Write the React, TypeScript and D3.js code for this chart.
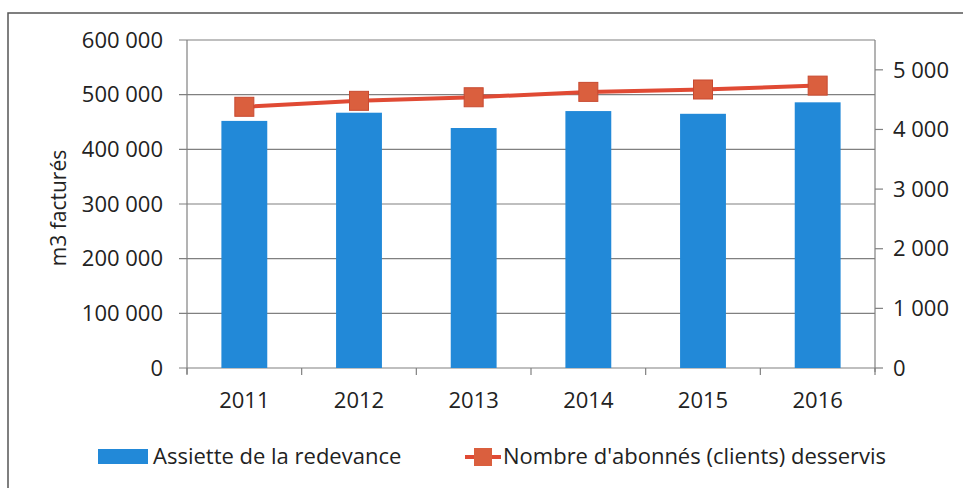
import React, { useEffect, useRef } from "react";
import * as d3 from "d3";

const years = ["2011", "2012", "2013", "2014", "2015", "2016"];
const assiette = [452000, 467000, 439000, 470000, 465000, 486000];
const abonnes = [4380, 4480, 4540, 4630, 4670, 4735];
const leftTicks = [0, 100000, 200000, 300000, 400000, 500000, 600000];
const rightTicks = [0, 1000, 2000, 3000, 4000, 5000];

const FONT = "'Open Sans', Lato, sans-serif";
const fmt = (v: number) => d3.format(",")(v).replace(/,/g, " ");

export default function App() {
  const ref = useRef<SVGSVGElement>(null);

  useEffect(() => {
    const width = 963;
    const height = 488;
    const left = 187, right = 875, top = 40, bottom = 368;

    const svg = d3.select(ref.current);
    svg.selectAll("*").remove();
    svg.attr("width", width).attr("height", height);

    // outer chart frame (only top and left visible)
    svg.append("path")
      .attr("d", `M8,${height} L8,13 L${width},13`)
      .attr("fill", "none")
      .attr("stroke", "#555")
      .attr("stroke-width", 1.5);

    const x = d3.scaleBand().domain(years).range([left, right]).paddingInner(0.6).paddingOuter(0.3);
    const xb = d3.scaleBand().domain(years).range([left, right]);
    const yL = d3.scaleLinear().domain([0, 600000]).range([bottom, top]);
    const yR = d3.scaleLinear().domain([0, 5500]).range([bottom, top]);

    // gridlines
    svg.append("g")
      .selectAll("line")
      .data(leftTicks)
      .enter()
      .append("line")
      .attr("x1", left - 8)
      .attr("x2", right)
      .attr("y1", (d) => yL(d))
      .attr("y2", (d) => yL(d))
      .attr("stroke", "#808080")
      .attr("stroke-width", 1.2);

    // left axis line
    svg.append("line")
      .attr("x1", left).attr("x2", left)
      .attr("y1", top).attr("y2", bottom + 6)
      .attr("stroke", "#808080").attr("stroke-width", 1.2);

    // left tick labels
    svg.append("g")
      .selectAll("text")
      .data(leftTicks)
      .enter()
      .append("text")
      .attr("x", left - 24)
      .attr("y", (d) => yL(d))
      .attr("dy", "0.35em")
      .attr("text-anchor", "end")
      .attr("font-family", FONT)
      .attr("font-size", 22)
      .attr("fill", "#222")
      .text((d) => fmt(d));

    // axis title
    svg.append("text")
      .attr("transform", `translate(66,${(top + bottom) / 2 + 4}) rotate(-90)`)
      .attr("text-anchor", "middle")
      .attr("font-family", FONT)
      .attr("font-size", 21)
      .attr("fill", "#222")
      .text("m3 facturés");

    // right axis
    svg.append("line")
      .attr("x1", right).attr("x2", right)
      .attr("y1", top).attr("y2", bottom + 4)
      .attr("stroke", "#808080").attr("stroke-width", 1.2);
    const rt = svg.append("g").selectAll("g").data(rightTicks).enter().append("g");
    rt.append("line")
      .attr("x1", right).attr("x2", right + 8)
      .attr("y1", (d) => yR(d)).attr("y2", (d) => yR(d))
      .attr("stroke", "#808080").attr("stroke-width", 1.2);
    rt.append("text")
      .attr("x", right + 18)
      .attr("y", (d) => yR(d))
      .attr("dy", "0.35em")
      .attr("font-family", FONT)
      .attr("font-size", 22)
      .attr("fill", "#222")
      .text((d) => fmt(d));

    // x ticks at category boundaries
    const bounds = years.map((y) => xb(y) as number).concat([right]);
    svg.append("g")
      .selectAll("line")
      .data(bounds)
      .enter()
      .append("line")
      .attr("x1", (d) => d).attr("x2", (d) => d)
      .attr("y1", bottom).attr("y2", bottom + 7)
      .attr("stroke", "#808080").attr("stroke-width", 1.2);

    svg.append("g")
      .selectAll("text")
      .data(years)
      .enter()
      .append("text")
      .attr("x", (d) => (xb(d) as number) + xb.bandwidth() / 2)
      .attr("y", bottom + 40)
      .attr("text-anchor", "middle")
      .attr("font-family", FONT)
      .attr("font-size", 22)
      .attr("fill", "#222")
      .text((d) => d);

    // bars
    svg.append("g")
      .selectAll("rect")
      .data(assiette)
      .enter()
      .append("rect")
      .attr("x", (d, i) => x(years[i]) as number)
      .attr("y", (d) => yL(d))
      .attr("width", x.bandwidth())
      .attr("height", (d) => bottom - yL(d))
      .attr("fill", "#2289d8");

    // line series
    const cx = (i: number) => (xb(years[i]) as number) + xb.bandwidth() / 2;
    const line = d3.line<number>().x((d, i) => cx(i)).y((d) => yR(d));
    svg.append("path")
      .datum(abonnes)
      .attr("d", line)
      .attr("fill", "none")
      .attr("stroke", "#e04a34")
      .attr("stroke-width", 4);
    svg.append("g")
      .selectAll("rect")
      .data(abonnes)
      .enter()
      .append("rect")
      .attr("x", (d, i) => cx(i) - 9.5)
      .attr("y", (d) => yR(d) - 9.5)
      .attr("width", 19)
      .attr("height", 19)
      .attr("fill", "#da5f3e")
      .attr("stroke", "#c84a30")
      .attr("stroke-width", 1);

    // legend
    const lg = svg.append("g");
    lg.append("rect")
      .attr("x", 98).attr("y", 449).attr("width", 50).attr("height", 15)
      .attr("fill", "#2289d8");
    lg.append("text")
      .attr("x", 153).attr("y", 464)
      .attr("font-family", FONT).attr("font-size", 22).attr("fill", "#222")
      .text("Assiette de la redevance");
    lg.append("line")
      .attr("x1", 465).attr("x2", 501).attr("y1", 457).attr("y2", 457)
      .attr("stroke", "#e04a34").attr("stroke-width", 4);
    lg.append("rect")
      .attr("x", 474).attr("y", 448).attr("width", 18).attr("height", 18)
      .attr("fill", "#da5f3e");
    lg.append("text")
      .attr("x", 503).attr("y", 464)
      .attr("font-family", FONT).attr("font-size", 22).attr("fill", "#222")
      .text("Nombre d'abonnés (clients) desservis");
  }, []);

  return (
    <div style={{ position: "absolute", left: 0, top: 0 }}>
      <svg ref={ref}></svg>
    </div>
  );
}
